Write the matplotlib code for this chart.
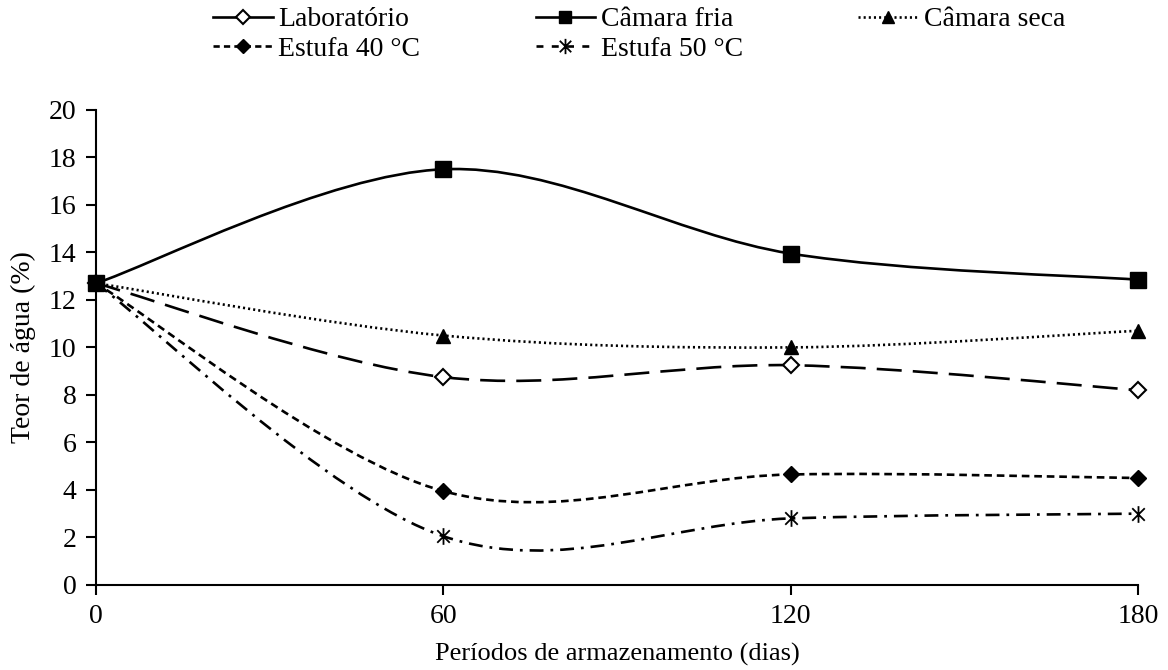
import matplotlib
matplotlib.use("Agg")
import matplotlib.pyplot as plt
from matplotlib.path import Path
from matplotlib.patches import PathPatch
from matplotlib.lines import Line2D

plt.rcParams['font.family'] = ['Liberation Serif', 'DejaVu Serif']
plt.rcParams['lines.scale_dashes'] = False

# data
dias = [0, 60, 120, 180]
laboratorio = [12.7, 8.75, 9.25, 8.2]
camara_fria = [12.7, 17.5, 13.95, 12.85]
camara_seca = [12.7, 10.5, 10.0, 10.7]
estufa_40 = [12.7, 3.95, 4.65, 4.5]
estufa_50 = [12.7, 2.05, 2.8, 3.0]

nomes = ['Laboratório', 'Câmara fria', 'Câmara seca', 'Estufa 40 °C', 'Estufa 50 °C']

# asterisk marker: vertical bar plus an X
asterisco = Path([(0, -1), (0, 1), (-0.75, -0.75), (0.75, 0.75), (-0.75, 0.75), (0.75, -0.75)],
                 [Path.MOVETO, Path.LINETO, Path.MOVETO, Path.LINETO, Path.MOVETO, Path.LINETO])


def curva_suave(x, y):
    """Excel-like smoothed line as a cubic bezier path."""
    pts = list(zip(x, y))
    verts = [pts[0]]
    codes = [Path.MOVETO]
    n = len(pts)
    for i in range(n - 1):
        p0 = pts[max(i - 1, 0)]
        p1 = pts[i]
        p2 = pts[i + 1]
        p3 = pts[min(i + 2, n - 1)]
        c1 = (p1[0] + (p2[0] - p0[0]) / 6, p1[1] + (p2[1] - p0[1]) / 6)
        c2 = (p2[0] - (p3[0] - p1[0]) / 6, p2[1] - (p3[1] - p1[1]) / 6)
        verts += [c1, c2, p2]
        codes += [Path.CURVE4] * 3
    return Path(verts, codes)


# (values, line style, marker props, legend marker size, legend line style)
series = [
    (laboratorio, (0, (18, 8)), dict(marker='D', markersize=8, markerfacecolor='white', markeredgewidth=1.5), 7, '-'),
    (camara_fria, '-', dict(marker='s', markersize=11, markerfacecolor='black'), 9, '-'),
    (camara_seca, (0, (1.5, 2.2)), dict(marker='^', markersize=10, markerfacecolor='black'), 9, (0, (1.5, 2.2))),
    (estufa_40, (0, (5.5, 3.5)), dict(marker='D', markersize=8, markerfacecolor='black'), 7, (0, (4.5, 3))),
    (estufa_50, (0, (10, 5, 2, 5)), dict(marker=asterisco, markersize=12, markeredgewidth=1.3,
                                         markerfacecolor='black'), 11, (0, (5, 6))),
]

fig = plt.figure(figsize=(11.68, 6.70), dpi=100)
ax = fig.add_axes([0.0822, 0.127, 0.892, 0.709])

handles = []
for valores, estilo, mk, ms_leg, estilo_leg in series:
    patch = PathPatch(curva_suave(dias, valores), fill=False, edgecolor='black',
                      linewidth=1.9, linestyle=estilo, capstyle='butt', zorder=2)
    ax.add_patch(patch)
    ax.plot(dias, valores, linestyle='none', color='black', zorder=3, clip_on=False, **mk)
    mk_leg = dict(mk, markersize=ms_leg)
    handles.append(Line2D([], [], color='black', linewidth=1.9, linestyle=estilo_leg, **mk_leg))

ax.set_xlim(0, 180)
ax.set_ylim(0, 20)
ax.set_xticks(dias)
ax.set_yticks(range(0, 21, 2))
for s in ['top', 'right']:
    ax.spines[s].set_visible(False)
for s in ['left', 'bottom']:
    ax.spines[s].set_linewidth(1.5)
ax.tick_params(direction='out', length=7, width=1.5, labelsize=20, pad=7)
ax.set_xlabel('Períodos de armazenamento (dias)', fontsize=19, labelpad=10)
ax.set_ylabel('Teor de água (%)', fontsize=20, labelpad=9)

ordem = [0, 3, 1, 4, 2]
fig.legend([handles[i] for i in ordem], [nomes[i] for i in ordem], ncol=3,
           loc='upper left', bbox_to_anchor=(0.161, 1.027), frameon=False, fontsize=20,
           handlelength=2.15, handletextpad=0.2, columnspacing=4.15, labelspacing=0.15)

fig.savefig('out.png', dpi=100)
